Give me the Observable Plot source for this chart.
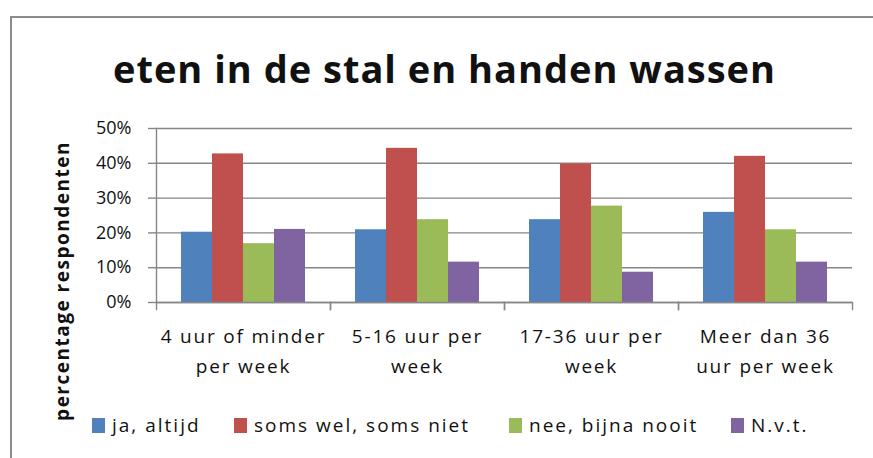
<!DOCTYPE html>
<html><head><meta charset="utf-8">
<script src="https://cdn.jsdelivr.net/npm/d3@7"></script>
<script src="https://cdn.jsdelivr.net/npm/@observablehq/plot@0.6"></script>
<style>
body{margin:0;background:#fff;font-family:"Open Sans",sans-serif;color:#111;}
#wrap{position:relative;width:873px;height:458px;overflow:hidden;}
#frame{position:absolute;left:10px;top:16px;width:900px;height:500px;border-left:2px solid #8c8c8c;border-top:2px solid #8c8c8c;}
#title{position:absolute;left:0;width:889px;top:47px;text-align:center;font-weight:700;font-size:38px;line-height:42px;letter-spacing:1px;}
#ylabel{position:absolute;left:62px;top:281px;transform:translate(-50%,-50%) rotate(-90deg);white-space:nowrap;font-weight:700;font-size:19px;letter-spacing:1.5px;}
#chart{position:absolute;left:0;top:100px;}
#chart g[aria-label="fx-axis tick label"] text{letter-spacing:1.8px;}
#legend{position:absolute;left:0;top:414px;width:873px;height:24px;font-size:19px;line-height:22px;letter-spacing:2px;}
.item{position:absolute;top:0;display:flex;align-items:center;white-space:nowrap;}
.sw{width:13px;height:15px;margin-right:7px;}
</style></head>
<body><div id="wrap"><div id="frame"></div><div id="title">eten in de stal en handen wassen</div><div id="ylabel">percentage respondenten</div><div id="chart"></div><div id="legend"></div></div>
<script>
const groups = ["4 uur of minder per week", "5-16 uur per week", "17-36 uur per week", "Meer dan 36 uur per week"];
const groupLabels = ["4 uur of minder\nper week", "5-16 uur per\nweek", "17-36 uur per\nweek", "Meer dan 36\nuur per week"];
const series = ["ja, altijd", "soms wel, soms niet", "nee, bijna nooit", "N.v.t."];
const colors = ["#4F81BD", "#C0504D", "#9BBB59", "#8064A2"];
const jaAltijd = [20.2, 20.9, 23.8, 25.9];
const somsWel = [42.7, 44.3, 39.8, 42.0];
const neeBijnaNooit = [16.9, 23.8, 27.7, 20.9];
const nvt = [21.0, 11.6, 8.7, 11.6];
const yTicks = [0, 10, 20, 30, 40, 50];

const seriesValues = [jaAltijd, somsWel, neeBijnaNooit, nvt];
const table = [];
groups.forEach((g, gi) => series.forEach((s, si) => table.push({group: g, series: s, value: seriesValues[si][gi]})));

const W = 873, H = 300, mT = 28, mB = 98, mL = 155, mR = 20;
const innerH = H - mT - mB;
const grid = "#868686";
const legendLeft = [92, 234, 509, 731];

const chart = Plot.plot({
  width: W, height: H, marginTop: mT, marginBottom: mB, marginLeft: mL, marginRight: mR,
  style: {fontFamily: "Open Sans", fontSize: "17px", color: "#111", background: "transparent"},
  fx: {domain: groups, padding: 0, label: null},
  x: {domain: series, paddingInner: 0, paddingOuter: 0.727, axis: null},
  y: {domain: [0, 50], label: null},
  color: {domain: series, range: colors},
  marks: [
    Plot.gridY(yTicks, {stroke: grid, strokeOpacity: 1, strokeWidth: 1.4}),
    Plot.barY(table, {fx: "group", x: "series", y: "value", fill: "series"}),
    Plot.ruleY([0], {stroke: grid, strokeWidth: 1.4}),
    Plot.frame({anchor: "left", insetTop: innerH, insetBottom: -7, stroke: grid, strokeWidth: 1.4}),
    Plot.frame({anchor: "right", insetTop: innerH, insetBottom: -7, stroke: grid, strokeWidth: 1.4}),
    Plot.frame({anchor: "left", facetAnchor: "left", stroke: grid, strokeWidth: 1.4}),
    Plot.axisY(yTicks, {tickSize: 8, tickPadding: 17, stroke: grid, strokeWidth: 1.4, tickFormat: d => d + "%", fontSize: 18, fill: "#111", label: null}),
    Plot.axisFx({anchor: "bottom", tickSize: 0, tickPadding: 19, lineHeight: 1.6, fontSize: 19, fill: "#111", label: null,
      tickFormat: g => groupLabels[groups.indexOf(g)]})
  ]
});
document.getElementById("chart").appendChild(chart);

const legend = document.getElementById("legend");
series.forEach((s, i) => {
  const it = document.createElement("div"); it.className = "item"; it.style.left = legendLeft[i] + "px";
  const sw = document.createElement("div"); sw.className = "sw"; sw.style.background = colors[i];
  const tx = document.createElement("span"); tx.textContent = s;
  it.appendChild(sw); it.appendChild(tx); legend.appendChild(it);
});
</script></body></html>
